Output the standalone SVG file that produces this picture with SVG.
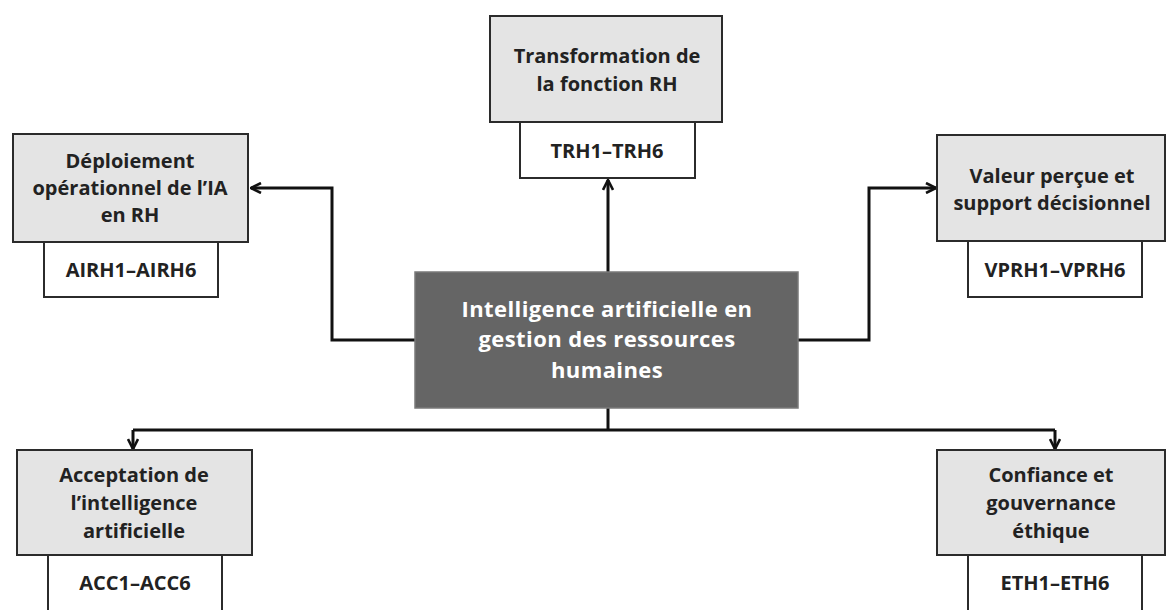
<svg xmlns="http://www.w3.org/2000/svg" width="1167" height="610" viewBox="0 0 1167 610">
  <defs>
    <marker id="arr" viewBox="0 0 12 12" refX="11" refY="6" markerWidth="12" markerHeight="12" markerUnits="userSpaceOnUse" orient="auto">
      <path d="M1,1 L11,6 L1,11" fill="none" stroke="#111" stroke-width="2.6" stroke-linejoin="miter"/>
    </marker>
    <style>
      .outer { fill: #e4e4e4; stroke: #2b2b2b; stroke-width: 2; }
      .sub { fill: #ffffff; stroke: #2b2b2b; stroke-width: 2; }
      .center { fill: #656565; stroke: #7a7a7a; stroke-width: 1.5; }
      .t { font-family: "Open Sans", "Liberation Sans", sans-serif; font-weight: 700; font-size: 20px; fill: #222; text-anchor: middle; }
      .tc { font-family: "Open Sans", "Liberation Sans", sans-serif; font-weight: 700; font-size: 22px; letter-spacing: 0.4px; fill: #ffffff; text-anchor: middle; }
      .conn { fill: none; stroke: #111; stroke-width: 3; }
    </style>
  </defs>
  <rect width="1167" height="610" fill="#ffffff"/>

  <g id="connectors">
    <path class="conn" d="M608,272 L608,180" marker-end="url(#arr)"/>
    <path class="conn" d="M415,340 L332,340 L332,188 L251,188" marker-end="url(#arr)"/>
    <path class="conn" d="M798,340 L869,340 L869,188 L936,188" marker-end="url(#arr)"/>
    <path class="conn" d="M608,408 L608,430"/>
    <path class="conn" d="M133,430 L1055,430"/>
    <path class="conn" d="M133,430 L133,449" marker-end="url(#arr)"/>
    <path class="conn" d="M1055,430 L1055,449" marker-end="url(#arr)"/>
  </g>

  <g id="node-center">
    <rect class="center" x="415" y="272" width="383" height="136"/>
    <text class="tc" x="607" y="317">Intelligence artificielle en</text>
    <text class="tc" x="607" y="347">gestion des ressources</text>
    <text class="tc" x="607" y="378">humaines</text>
  </g>

  <g id="node-trh">
    <rect class="sub" x="520" y="122" width="175" height="56"/>
    <rect class="outer" x="490" y="16" width="232" height="106"/>
    <text class="t" x="607" y="63">Transformation de</text>
    <text class="t" x="607" y="91">la fonction RH</text>
    <text class="t" x="607" y="158">TRH1–TRH6</text>
  </g>

  <g id="node-airh">
    <rect class="sub" x="44" y="242" width="174" height="55"/>
    <rect class="outer" x="13" y="134" width="235" height="108"/>
    <text class="t" x="130" y="168">Déploiement</text>
    <text class="t" x="130" y="195">opérationnel de l’IA</text>
    <text class="t" x="130" y="222">en RH</text>
    <text class="t" x="131" y="277">AIRH1–AIRH6</text>
  </g>

  <g id="node-vprh">
    <rect class="sub" x="968" y="241" width="174" height="56"/>
    <rect class="outer" x="937" y="135" width="228" height="106"/>
    <text class="t" x="1052" y="183">Valeur perçue et</text>
    <text class="t" x="1052" y="210">support décisionnel</text>
    <text class="t" x="1055" y="277">VPRH1–VPRH6</text>
  </g>

  <g id="node-acc">
    <rect class="sub" x="48" y="555" width="174" height="70"/>
    <rect class="outer" x="17" y="450" width="235" height="105"/>
    <text class="t" x="134" y="482">Acceptation de</text>
    <text class="t" x="134" y="510">l’intelligence</text>
    <text class="t" x="134" y="538">artificielle</text>
    <text class="t" x="135" y="590">ACC1–ACC6</text>
  </g>

  <g id="node-eth">
    <rect class="sub" x="968" y="555" width="174" height="70"/>
    <rect class="outer" x="937" y="450" width="228" height="105"/>
    <text class="t" x="1051" y="482">Confiance et</text>
    <text class="t" x="1051" y="510">gouvernance</text>
    <text class="t" x="1051" y="538">éthique</text>
    <text class="t" x="1055" y="590">ETH1–ETH6</text>
  </g>
</svg>
